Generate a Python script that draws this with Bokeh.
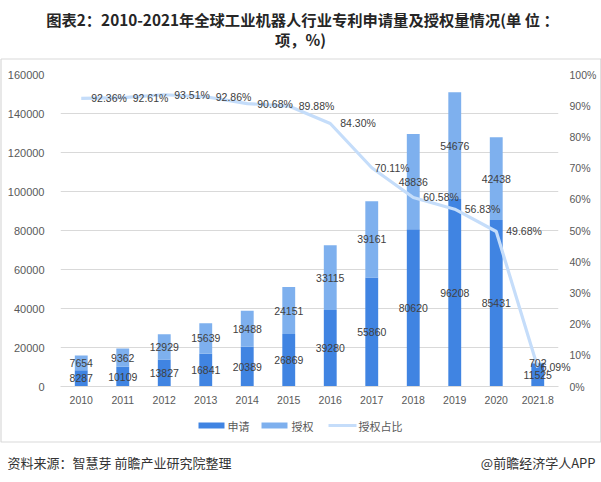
from bokeh.plotting import figure
from bokeh.models import (ColumnDataSource, Range1d, LinearAxis, FactorRange,
                          NumeralTickFormatter, PrintfTickFormatter, FixedTicker)
from bokeh.core.properties import value
from bokeh.embed import file_html
from bokeh.resources import INLINE

# ---------------- data ----------------
years = ["2010", "2011", "2012", "2013", "2014", "2015", "2016", "2017",
         "2018", "2019", "2020", "2021.8"]
applications = [8287, 10109, 13827, 16841, 20389, 26869, 39280, 55860,
                80620, 96208, 85431, 11525]
grants = [7654, 9362, 12929, 15639, 18488, 24151, 33115, 39161,
          48836, 54676, 42438, 702]
grant_ratio = [92.36, 92.61, 93.51, 92.86, 90.68, 89.88, 84.30, 70.11,
               60.58, 56.83, 49.68, 6.09]
left_ticks = [0, 20000, 40000, 60000, 80000, 100000, 120000, 140000, 160000]
right_ticks = [0, 10, 20, 30, 40, 50, 60, 70, 80, 90, 100]
series_names = ["申请", "授权", "授权占比"]
title_line1 = "图表2：2010-2021年全球工业机器人行业专利申请量及授权量情况(单 位 ："
title_line2 = "项，%)"
source_text = "资料来源：智慧芽 前瞻产业研究院整理"
brand_text = "@前瞻经济学人APP"

# ---------------- style / layout ----------------
ratio_label_dx = [10, 10, 10, 10, 10, 10, 10, 3, 10, 10, 10, 3]
C_APPLY = "#4084E2"
C_GRANT = "#7EB0EE"
C_RATIO = "#C5DDFA"
GRID = "#D9D9D9"
NUM_FONT = "Liberation Sans"
CJK_FONT = "Noto Sans CJK SC"

W, H = 601, 482
FL, FR, FT, FB = 60, 558, 74, 386          # frame edges in page pixels
YMAX = 160000
cat_w = (FR - FL) / len(years)


# pixel -> data helpers (used only for decorations outside the frame)
def px_x(px):
    return (px - FL) / cat_w


def px_y(py):
    return (FB - py) / (FB - FT) * YMAX


ANCHOR_X = years[0]
ANCHOR_Y = YMAX / 2
ANCHOR_PX = (FL + cat_w / 2, FB - (FB - FT) / 2)

src = ColumnDataSource(dict(
    year=years,
    apply=applications,
    grant=grants,
    apply_mid=[a / 2 for a in applications],
    grant_mid=[a + g / 2 for a, g in zip(applications, grants)],
    apply_lbl=[str(a) for a in applications],
    grant_lbl=[str(g) for g in grants],
    ratio=grant_ratio,
    ratio_lbl=["%.2f%%" % r for r in grant_ratio],
    dx=ratio_label_dx,
))

p = figure(width=W, height=H, x_range=FactorRange(*years),
           y_range=Range1d(0, YMAX), output_backend="svg",
           toolbar_location=None, tools="",
           min_border_left=FL, min_border_right=W - FR,
           min_border_top=FT, min_border_bottom=H - FB)
p.outline_line_color = None
p.background_fill_color = "white"
p.border_fill_color = "white"
p.extra_y_ranges = {"pct": Range1d(0, 100)}

# grid
p.xgrid.grid_line_color = None
p.ygrid.grid_line_color = GRID
p.ygrid.ticker = FixedTicker(ticks=left_ticks)

# axes
p.yaxis.ticker = FixedTicker(ticks=left_ticks)
p.yaxis.formatter = NumeralTickFormatter(format="0")
ax = p.yaxis[0]
ax.axis_line_color = None
ax.major_tick_line_color = None
ax.minor_tick_line_color = None
ax.major_label_text_font = NUM_FONT
ax.major_label_text_font_size = "11px"
ax.major_label_text_color = "#595959"
ax.major_label_standoff = 10

p.xaxis.axis_line_color = GRID
p.xaxis.major_tick_line_color = None
p.xaxis.minor_tick_line_color = None
p.xaxis.major_label_text_font = NUM_FONT
p.xaxis.major_label_text_font_size = "10.5px"
p.xaxis.major_label_text_color = "#595959"
p.xaxis.major_label_standoff = 3

raxis = LinearAxis(y_range_name="pct", ticker=FixedTicker(ticks=right_ticks),
                   formatter=PrintfTickFormatter(format="%d%%"))
raxis.axis_line_color = None
raxis.major_tick_line_color = None
raxis.minor_tick_line_color = None
raxis.major_label_text_font = NUM_FONT
raxis.major_label_text_font_size = "10.5px"
raxis.major_label_text_color = "#595959"
raxis.major_label_standoff = 5
p.add_layout(raxis, "right")

# bars
bars = p.vbar_stack(["apply", "grant"], x="year", width=0.31,
                    color=[C_APPLY, C_GRANT], source=src, line_width=0)

# ratio line
ln = p.line(x="year", y="ratio", y_range_name="pct", source=src,
            line_color=C_RATIO, line_width=3.2)

# data labels
p.text(x="year", y="apply_mid", text="apply_lbl", source=src,
       text_align="center", text_baseline="middle",
       text_font=value(NUM_FONT), text_font_size="10.5px", text_color="#404040")
p.text(x="year", y="grant_mid", text="grant_lbl", source=src,
       text_align="center", text_baseline="middle",
       text_font=value(NUM_FONT), text_font_size="10.5px", text_color="#404040")
p.text(x="year", y="ratio", text="ratio_lbl", source=src, y_range_name="pct",
       x_offset="dx", text_align="left", text_baseline="middle",
       text_font=value(NUM_FONT), text_font_size="10.5px", text_color="#404040",
       level="overlay")


# ---------------- decorations outside the frame ----------------
def page_line(pxs, pys, color, width):
    p.line(x=[px_x(v) for v in pxs], y=[px_y(v) for v in pys],
           line_color=color, line_width=width, level="overlay")


def page_text(txt, px, py, align, size, bold=False, color="#333333"):
    p.text(x=[ANCHOR_X], y=[ANCHOR_Y], text=[txt],
           x_offset=px - ANCHOR_PX[0], y_offset=py - ANCHOR_PX[1],
           text_align=align, text_baseline="middle",
           text_font=value(CJK_FONT), text_font_size=size,
           text_font_style="bold" if bold else "normal",
           text_color=color, level="overlay")


# chart-area border
page_line([0.5, 600.3, 600.3, 0.5, 0.5], [58.5, 58.5, 441.5, 441.5, 58.5], GRID, 1.2)

# title and footer
page_text(title_line1, 302, 18, "center", "15.3px", True, "#262626")
page_text(title_line2, 300, 38, "center", "15.3px", True, "#262626")
page_text(source_text, 7, 462, "left", "13px")
page_text(brand_text, 595, 462, "right", "13px")

# legend
LEG_Y = 425
page_line([198, 224], [LEG_Y, LEG_Y], C_APPLY, 6)
page_text(series_names[0], 227, LEG_Y, "left", "11px", color="#595959")
page_line([261, 287], [LEG_Y, LEG_Y], C_GRANT, 6)
page_text(series_names[1], 291, LEG_Y, "left", "11px", color="#595959")
page_line([328, 356], [LEG_Y, LEG_Y], C_RATIO, 3)
page_text(series_names[2], 358, LEG_Y, "left", "11px", color="#595959")

open("out.html", "w").write(file_html(p, INLINE))
